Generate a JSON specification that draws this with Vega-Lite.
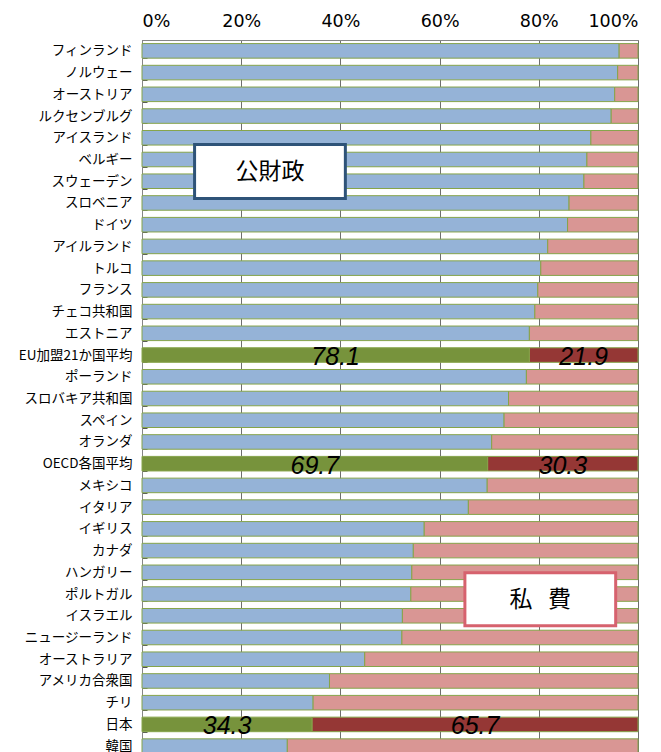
{
  "$schema": "https://vega.github.io/schema/vega-lite/v6.json",
  "padding": {"left": 0, "top": 0, "right": 23, "bottom": 0},
  "config": {
    "view": {"stroke": "#868686", "strokeWidth": 1},
    "axis": {"labelColor": "#000000"}
  },
  "datasets": {
    "bars": [
      {"country": "フィンランド", "seg": "公財政", "key": "公財政", "ord": 1, "value": 96.2},
      {"country": "フィンランド", "seg": "私費", "key": "私費", "ord": 2, "value": 3.8},
      {"country": "ノルウェー", "seg": "公財政", "key": "公財政", "ord": 1, "value": 95.9},
      {"country": "ノルウェー", "seg": "私費", "key": "私費", "ord": 2, "value": 4.1},
      {"country": "オーストリア", "seg": "公財政", "key": "公財政", "ord": 1, "value": 95.3},
      {"country": "オーストリア", "seg": "私費", "key": "私費", "ord": 2, "value": 4.7},
      {"country": "ルクセンブルグ", "seg": "公財政", "key": "公財政", "ord": 1, "value": 94.6},
      {"country": "ルクセンブルグ", "seg": "私費", "key": "私費", "ord": 2, "value": 5.4},
      {"country": "アイスランド", "seg": "公財政", "key": "公財政", "ord": 1, "value": 90.5},
      {"country": "アイスランド", "seg": "私費", "key": "私費", "ord": 2, "value": 9.5},
      {"country": "ベルギー", "seg": "公財政", "key": "公財政", "ord": 1, "value": 89.7},
      {"country": "ベルギー", "seg": "私費", "key": "私費", "ord": 2, "value": 10.3},
      {"country": "スウェーデン", "seg": "公財政", "key": "公財政", "ord": 1, "value": 89.1},
      {"country": "スウェーデン", "seg": "私費", "key": "私費", "ord": 2, "value": 10.9},
      {"country": "スロベニア", "seg": "公財政", "key": "公財政", "ord": 1, "value": 86.1},
      {"country": "スロベニア", "seg": "私費", "key": "私費", "ord": 2, "value": 13.9},
      {"country": "ドイツ", "seg": "公財政", "key": "公財政", "ord": 1, "value": 85.8},
      {"country": "ドイツ", "seg": "私費", "key": "私費", "ord": 2, "value": 14.2},
      {"country": "アイルランド", "seg": "公財政", "key": "公財政", "ord": 1, "value": 81.8},
      {"country": "アイルランド", "seg": "私費", "key": "私費", "ord": 2, "value": 18.2},
      {"country": "トルコ", "seg": "公財政", "key": "公財政", "ord": 1, "value": 80.4},
      {"country": "トルコ", "seg": "私費", "key": "私費", "ord": 2, "value": 19.6},
      {"country": "フランス", "seg": "公財政", "key": "公財政", "ord": 1, "value": 79.8},
      {"country": "フランス", "seg": "私費", "key": "私費", "ord": 2, "value": 20.2},
      {"country": "チェコ共和国", "seg": "公財政", "key": "公財政", "ord": 1, "value": 79.2},
      {"country": "チェコ共和国", "seg": "私費", "key": "私費", "ord": 2, "value": 20.8},
      {"country": "エストニア", "seg": "公財政", "key": "公財政", "ord": 1, "value": 78.1},
      {"country": "エストニア", "seg": "私費", "key": "私費", "ord": 2, "value": 21.9},
      {"country": "EU加盟21か国平均", "seg": "公財政", "key": "公財政H", "ord": 1, "value": 78.1, "hl": true},
      {"country": "EU加盟21か国平均", "seg": "私費", "key": "私費H", "ord": 2, "value": 21.9, "hl": true},
      {"country": "ポーランド", "seg": "公財政", "key": "公財政", "ord": 1, "value": 77.5},
      {"country": "ポーランド", "seg": "私費", "key": "私費", "ord": 2, "value": 22.5},
      {"country": "スロバキア共和国", "seg": "公財政", "key": "公財政", "ord": 1, "value": 73.9},
      {"country": "スロバキア共和国", "seg": "私費", "key": "私費", "ord": 2, "value": 26.1},
      {"country": "スペイン", "seg": "公財政", "key": "公財政", "ord": 1, "value": 73.0},
      {"country": "スペイン", "seg": "私費", "key": "私費", "ord": 2, "value": 27.0},
      {"country": "オランダ", "seg": "公財政", "key": "公財政", "ord": 1, "value": 70.5},
      {"country": "オランダ", "seg": "私費", "key": "私費", "ord": 2, "value": 29.5},
      {"country": "OECD各国平均", "seg": "公財政", "key": "公財政H", "ord": 1, "value": 69.7, "hl": true},
      {"country": "OECD各国平均", "seg": "私費", "key": "私費H", "ord": 2, "value": 30.3, "hl": true},
      {"country": "メキシコ", "seg": "公財政", "key": "公財政", "ord": 1, "value": 69.6},
      {"country": "メキシコ", "seg": "私費", "key": "私費", "ord": 2, "value": 30.4},
      {"country": "イタリア", "seg": "公財政", "key": "公財政", "ord": 1, "value": 65.8},
      {"country": "イタリア", "seg": "私費", "key": "私費", "ord": 2, "value": 34.2},
      {"country": "イギリス", "seg": "公財政", "key": "公財政", "ord": 1, "value": 56.9},
      {"country": "イギリス", "seg": "私費", "key": "私費", "ord": 2, "value": 43.1},
      {"country": "カナダ", "seg": "公財政", "key": "公財政", "ord": 1, "value": 54.7},
      {"country": "カナダ", "seg": "私費", "key": "私費", "ord": 2, "value": 45.3},
      {"country": "ハンガリー", "seg": "公財政", "key": "公財政", "ord": 1, "value": 54.4},
      {"country": "ハンガリー", "seg": "私費", "key": "私費", "ord": 2, "value": 45.6},
      {"country": "ポルトガル", "seg": "公財政", "key": "公財政", "ord": 1, "value": 54.2},
      {"country": "ポルトガル", "seg": "私費", "key": "私費", "ord": 2, "value": 45.8},
      {"country": "イスラエル", "seg": "公財政", "key": "公財政", "ord": 1, "value": 52.5},
      {"country": "イスラエル", "seg": "私費", "key": "私費", "ord": 2, "value": 47.5},
      {"country": "ニュージーランド", "seg": "公財政", "key": "公財政", "ord": 1, "value": 52.4},
      {"country": "ニュージーランド", "seg": "私費", "key": "私費", "ord": 2, "value": 47.6},
      {"country": "オーストラリア", "seg": "公財政", "key": "公財政", "ord": 1, "value": 44.9},
      {"country": "オーストラリア", "seg": "私費", "key": "私費", "ord": 2, "value": 55.1},
      {"country": "アメリカ合衆国", "seg": "公財政", "key": "公財政", "ord": 1, "value": 37.8},
      {"country": "アメリカ合衆国", "seg": "私費", "key": "私費", "ord": 2, "value": 62.2},
      {"country": "チリ", "seg": "公財政", "key": "公財政", "ord": 1, "value": 34.5},
      {"country": "チリ", "seg": "私費", "key": "私費", "ord": 2, "value": 65.5},
      {"country": "日本", "seg": "公財政", "key": "公財政H", "ord": 1, "value": 34.3, "hl": true},
      {"country": "日本", "seg": "私費", "key": "私費H", "ord": 2, "value": 65.7, "hl": true},
      {"country": "韓国", "seg": "公財政", "key": "公財政", "ord": 1, "value": 29.3},
      {"country": "韓国", "seg": "私費", "key": "私費", "ord": 2, "value": 70.7}
    ],
    "boxes": [
      {"label": "公財政", "x1": 10.6, "x2": 41.0, "top": 4.81, "bottom": 7.30, "mid": 6.07, "xm": 25.8, "kind": "pub"},
      {"label": "私\u00a0\u00a0\u00a0費", "x1": 65.1, "x2": 95.5, "top": 24.52, "bottom": 26.96, "mid": 25.76, "xm": 80.3, "kind": "priv"}
    ]
  },
  "width": 496,
  "height": 717,
  "layer": [
    {
      "data": {"name": "bars"},
      "layer": [
        {
          "mark": {"type": "bar", "stroke": "#86A44A", "strokeWidth": 1},
          "encoding": {
            "y": {
              "field": "country", "type": "nominal", "sort": null,
              "scale": {"paddingInner": 0.33, "paddingOuter": 0.165},
              "axis": {
                "title": null, "labelFont": "Noto Sans CJK JP", "labelFontSize": 13.5,
                "labelColor": "#000000", "domainColor": "#868686",
                "tickColor": "#555555", "tickBand": "extent", "tickSize": -5,
                "labelPadding": 15, "minExtent": 142, "maxExtent": 142
              }
            },
            "x": {
              "field": "value", "type": "quantitative", "stack": "zero",
              "scale": {"domain": [0, 100], "nice": false},
              "axis": {
                "orient": "top", "title": null, "values": [0, 20, 40, 60, 80, 100],
                "labelExpr": "datum.value + '%'", "labelFont": "DejaVu Sans",
                "labelFontSize": 17.5, "labelColor": "#000000", "labelPadding": 10,
                "ticks": false, "domainColor": "#868686",
                "grid": true, "gridColor": "#6E6E6E", "gridWidth": 1,
                "minExtent": 40, "maxExtent": 40
              }
            },
            "color": {
              "field": "key", "type": "nominal", "legend": null,
              "scale": {"domain": ["公財政", "私費", "公財政H", "私費H"], "range": ["#95B3D7", "#D99694", "#77933C", "#953735"]}
            },
            "order": {"field": "ord", "type": "quantitative"}
          }
        },
        {
          "transform": [{"filter": "datum.hl === true"}],
          "mark": {"type": "text", "font": "Liberation Sans", "fontStyle": "italic", "fontSize": 25, "color": "#000000", "baseline": "middle", "dy": 2},
          "encoding": {
            "y": {"field": "country", "type": "nominal", "sort": null},
            "x": {"field": "value", "type": "quantitative", "stack": "zero", "bandPosition": 0.5},
            "text": {"field": "value", "type": "quantitative", "format": ".1f"},
            "order": {"field": "ord", "type": "quantitative"}
          }
        }
      ]
    },
    {
      "data": {"name": "boxes"},
      "layer": [
        {
          "mark": {"type": "rect", "fill": "#FFFFFF", "strokeWidth": 3},
          "encoding": {
            "x": {"field": "x1", "type": "quantitative"},
            "x2": {"field": "x2"},
            "y": {"field": "top", "type": "quantitative", "scale": {"domain": [0, 33], "reverse": true, "nice": false, "zero": false}, "axis": null},
            "y2": {"field": "bottom"},
            "stroke": {"field": "kind", "type": "nominal", "legend": null, "scale": {"domain": ["pub", "priv"], "range": ["#2E5378", "#D6626E"]}}
          }
        },
        {
          "mark": {"type": "text", "font": "Noto Sans CJK JP", "fontSize": 23, "color": "#000000", "baseline": "middle"},
          "encoding": {
            "x": {"field": "xm", "type": "quantitative"},
            "y": {"field": "mid", "type": "quantitative"},
            "text": {"field": "label"}
          }
        }
      ]
    }
  ],
  "resolve": {"scale": {"y": "independent"}}
}
